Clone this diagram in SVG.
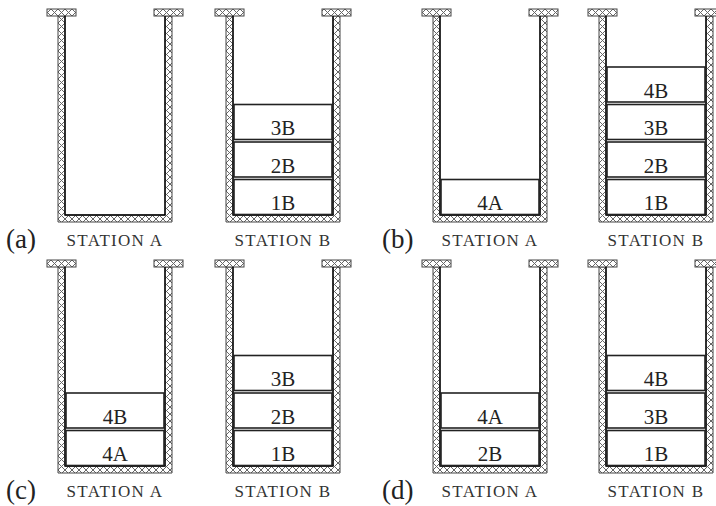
<svg xmlns="http://www.w3.org/2000/svg" xmlns:xlink="http://www.w3.org/1999/xlink" width="716" height="506" viewBox="0 0 716 506">
<style>
.wall{fill:url(#hatch);stroke:#444;stroke-width:1}
.inner{fill:none;stroke:#000;stroke-width:1.4}
.box{fill:#fff;stroke:#222;stroke-width:1.6}
.bt{font-family:"Liberation Serif","DejaVu Serif","Times New Roman",serif;font-size:21px;text-anchor:middle;fill:#222}
.st{font-family:"Liberation Serif","DejaVu Serif","Times New Roman",serif;font-size:17px;letter-spacing:1.3px;text-anchor:middle;fill:#333}
.pl{font-family:"Liberation Serif","DejaVu Serif","Times New Roman",serif;font-size:27px;fill:#222}
</style>
<defs>
<pattern id="hatch" width="7" height="7" patternUnits="userSpaceOnUse">
<rect width="7" height="7" fill="#fff"/>
<path d="M0,0L7,7M7,0L0,7" stroke="#666" stroke-width="1"/>
</pattern>
<g id="station">
<path class="wall" d="M0,7 V213 H114 V7 H107 V206 H7 V7 Z"/>
<rect class="wall" x="-11" y="0" width="29" height="7"/>
<rect class="wall" x="96" y="0" width="29" height="7"/>
<path class="inner" d="M7,7 V206 H107 V7"/>
</g>
</defs>

<g id="panel-a">
<g id="a-stationA" transform="translate(58,9)">
<use xlink:href="#station"/>
</g>
<g id="a-stationB" transform="translate(226,9)">
<use xlink:href="#station"/>
<g id="a-B-3B"><rect class="box" x="8" y="95.5" width="98" height="35"/><text class="bt" x="57" y="126">3B</text></g>
<g id="a-B-2B"><rect class="box" x="8" y="133" width="98" height="35"/><text class="bt" x="57" y="163.5">2B</text></g>
<g id="a-B-1B"><rect class="box" x="8" y="170.5" width="98" height="35"/><text class="bt" x="57" y="201">1B</text></g>
</g>
<text class="pl" x="6" y="248">(a)</text>
<text class="st" x="115" y="246">STATION A</text>
<text class="st" x="283" y="246">STATION B</text>
</g>

<g id="panel-b">
<g id="b-stationA" transform="translate(433,9)">
<use xlink:href="#station"/>
<g id="b-A-4A"><rect class="box" x="8" y="170.5" width="98" height="35"/><text class="bt" x="57" y="201">4A</text></g>
</g>
<g id="b-stationB" transform="translate(599,9)">
<use xlink:href="#station"/>
<g id="b-B-4B"><rect class="box" x="8" y="58" width="98" height="35"/><text class="bt" x="57" y="88.5">4B</text></g>
<g id="b-B-3B"><rect class="box" x="8" y="95.5" width="98" height="35"/><text class="bt" x="57" y="126">3B</text></g>
<g id="b-B-2B"><rect class="box" x="8" y="133" width="98" height="35"/><text class="bt" x="57" y="163.5">2B</text></g>
<g id="b-B-1B"><rect class="box" x="8" y="170.5" width="98" height="35"/><text class="bt" x="57" y="201">1B</text></g>
</g>
<text class="pl" x="382" y="248">(b)</text>
<text class="st" x="490" y="246">STATION A</text>
<text class="st" x="656" y="246">STATION B</text>
</g>

<g id="panel-c">
<g id="c-stationA" transform="translate(58,260)">
<use xlink:href="#station"/>
<g id="c-A-4B"><rect class="box" x="8" y="133" width="98" height="35"/><text class="bt" x="57" y="163.5">4B</text></g>
<g id="c-A-4A"><rect class="box" x="8" y="170.5" width="98" height="35"/><text class="bt" x="57" y="201">4A</text></g>
</g>
<g id="c-stationB" transform="translate(226,260)">
<use xlink:href="#station"/>
<g id="c-B-3B"><rect class="box" x="8" y="95.5" width="98" height="35"/><text class="bt" x="57" y="126">3B</text></g>
<g id="c-B-2B"><rect class="box" x="8" y="133" width="98" height="35"/><text class="bt" x="57" y="163.5">2B</text></g>
<g id="c-B-1B"><rect class="box" x="8" y="170.5" width="98" height="35"/><text class="bt" x="57" y="201">1B</text></g>
</g>
<text class="pl" x="6" y="499">(c)</text>
<text class="st" x="115" y="497">STATION A</text>
<text class="st" x="283" y="497">STATION B</text>
</g>

<g id="panel-d">
<g id="d-stationA" transform="translate(433,260)">
<use xlink:href="#station"/>
<g id="d-A-4A"><rect class="box" x="8" y="133" width="98" height="35"/><text class="bt" x="57" y="163.5">4A</text></g>
<g id="d-A-2B"><rect class="box" x="8" y="170.5" width="98" height="35"/><text class="bt" x="57" y="201">2B</text></g>
</g>
<g id="d-stationB" transform="translate(599,260)">
<use xlink:href="#station"/>
<g id="d-B-4B"><rect class="box" x="8" y="95.5" width="98" height="35"/><text class="bt" x="57" y="126">4B</text></g>
<g id="d-B-3B"><rect class="box" x="8" y="133" width="98" height="35"/><text class="bt" x="57" y="163.5">3B</text></g>
<g id="d-B-1B"><rect class="box" x="8" y="170.5" width="98" height="35"/><text class="bt" x="57" y="201">1B</text></g>
</g>
<text class="pl" x="382" y="499">(d)</text>
<text class="st" x="490" y="497">STATION A</text>
<text class="st" x="656" y="497">STATION B</text>
</g>
</svg>
